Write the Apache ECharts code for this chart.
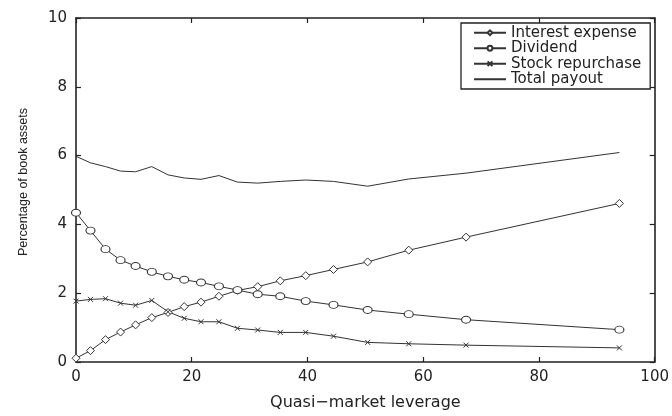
<!DOCTYPE html>
<html>
<head>
<meta charset="utf-8">
<script src="https://cdn.jsdelivr.net/npm/echarts@6/dist/echarts.min.js"></script>
<style>
  html, body { margin: 0; padding: 0; background: #fff; }
  #chart { width: 672px; height: 416px; }
</style>
</head>
<body>
<div id="chart"></div>
<script>
// Payout components against quasi-market leverage
const leverage = [0, 2.5, 5.1, 7.7, 10.3, 13.1, 15.9, 18.7, 21.6, 24.7, 27.9, 31.4, 35.3, 39.7, 44.5, 50.4, 57.5, 67.4, 93.9];
const interestExpense = [0.11, 0.33, 0.65, 0.87, 1.08, 1.29, 1.44, 1.61, 1.74, 1.91, 2.08, 2.19, 2.36, 2.51, 2.69, 2.91, 3.25, 3.63, 4.61];
const dividend = [4.34, 3.82, 3.28, 2.96, 2.79, 2.62, 2.49, 2.39, 2.31, 2.20, 2.09, 1.97, 1.91, 1.77, 1.66, 1.51, 1.39, 1.23, 0.94];
const stockRepurchase = [1.77, 1.82, 1.84, 1.71, 1.65, 1.79, 1.46, 1.27, 1.17, 1.17, 0.98, 0.93, 0.86, 0.86, 0.75, 0.57, 0.53, 0.49, 0.41];
const totalPayout = [5.98, 5.79, 5.68, 5.55, 5.53, 5.68, 5.44, 5.35, 5.31, 5.42, 5.23, 5.20, 5.25, 5.29, 5.25, 5.11, 5.32, 5.49, 6.09];

const seriesNames = ['Interest expense', 'Dividend', 'Stock repurchase', 'Total payout'];
const xAxisTitle = 'Quasi\u2212market leverage';
const yAxisTitle = 'Percentage of book assets';

const ink = '#222';
const lineInk = '#333';
const labelFont = 'DejaVu Sans';

function pairs(ys) {
  return leverage.map((x, i) => [x, ys[i]]);
}

const chart = echarts.init(document.getElementById('chart'), null, { renderer: 'canvas' });

const tickStyle = { show: true, inside: true, length: 5, lineStyle: { color: ink, width: 1.2 } };
const axisLine = { show: true, onZero: false, lineStyle: { color: ink, width: 1.6 } };

function lineSeries(name, ys, symbol, size, extra) {
  return Object.assign({
    name: name,
    type: 'line',
    data: pairs(ys),
    symbol: symbol,
    symbolSize: size,
    showSymbol: symbol !== 'none',
    lineStyle: { color: lineInk, width: 1 },
    itemStyle: { color: '#fff', borderColor: lineInk, borderWidth: 1 },
    emphasis: { disabled: true },
    animation: false
  }, extra || {});
}

chart.setOption({
  backgroundColor: '#fff',
  animation: false,
  grid: { left: 76, right: 17, top: 18, bottom: 49, containLabel: false },
  legend: {
    orient: 'vertical',
    left: 461,
    top: 23,
    padding: [2, 9, 2, 12],
    itemGap: 0,
    itemWidth: 32,
    itemHeight: 6,
    backgroundColor: '#fff',
    borderColor: ink,
    borderWidth: 1.3,
    borderRadius: 0,
    textStyle: { fontFamily: labelFont, fontSize: 15, color: ink, lineHeight: 15.5 },
    data: [
      seriesNames[0],
      seriesNames[1],
      seriesNames[2],
      // the total line has no marker, so its key shows the bare line
      { name: seriesNames[3], itemStyle: { color: 'transparent', borderColor: 'transparent', borderWidth: 0 } }
    ]
  },
  xAxis: [
    {
      type: 'value', min: 0, max: 100, interval: 20,
      name: xAxisTitle, nameLocation: 'middle', nameGap: 33,
      nameTextStyle: { fontFamily: labelFont, fontSize: 16, color: ink },
      axisLine: axisLine, axisTick: tickStyle,
      axisLabel: { fontFamily: labelFont, fontSize: 15, color: ink, margin: 8 },
      splitLine: { show: false }
    },
    {
      type: 'value', min: 0, max: 100, interval: 20, position: 'top',
      axisLine: axisLine, axisTick: tickStyle,
      axisLabel: { show: false }, splitLine: { show: false }
    }
  ],
  yAxis: [
    {
      type: 'value', min: 0, max: 10, interval: 2,
      name: yAxisTitle, nameLocation: 'middle', nameGap: 46,
      nameTextStyle: { fontFamily: 'Liberation Sans', fontSize: 12.5, color: ink, padding: [0, 0, 0, 16] },
      axisLine: axisLine, axisTick: tickStyle,
      axisLabel: { fontFamily: labelFont, fontSize: 15, color: ink, margin: 9 },
      splitLine: { show: false }
    },
    {
      type: 'value', min: 0, max: 10, interval: 2, position: 'right',
      axisLine: axisLine, axisTick: tickStyle,
      axisLabel: { show: false }, splitLine: { show: false }
    }
  ],
  series: [
    lineSeries(seriesNames[0], interestExpense, 'diamond', [8, 8]),
    lineSeries(seriesNames[1], dividend, 'circle', [9, 7]),
    lineSeries(seriesNames[2], stockRepurchase, 'path://M0,0L10,10M10,0L0,10', [5, 5],
      { itemStyle: { color: lineInk, borderColor: lineInk, borderWidth: 1 } }),
    lineSeries(seriesNames[3], totalPayout, 'none', 0)
  ]
});
</script>
</body>
</html>
